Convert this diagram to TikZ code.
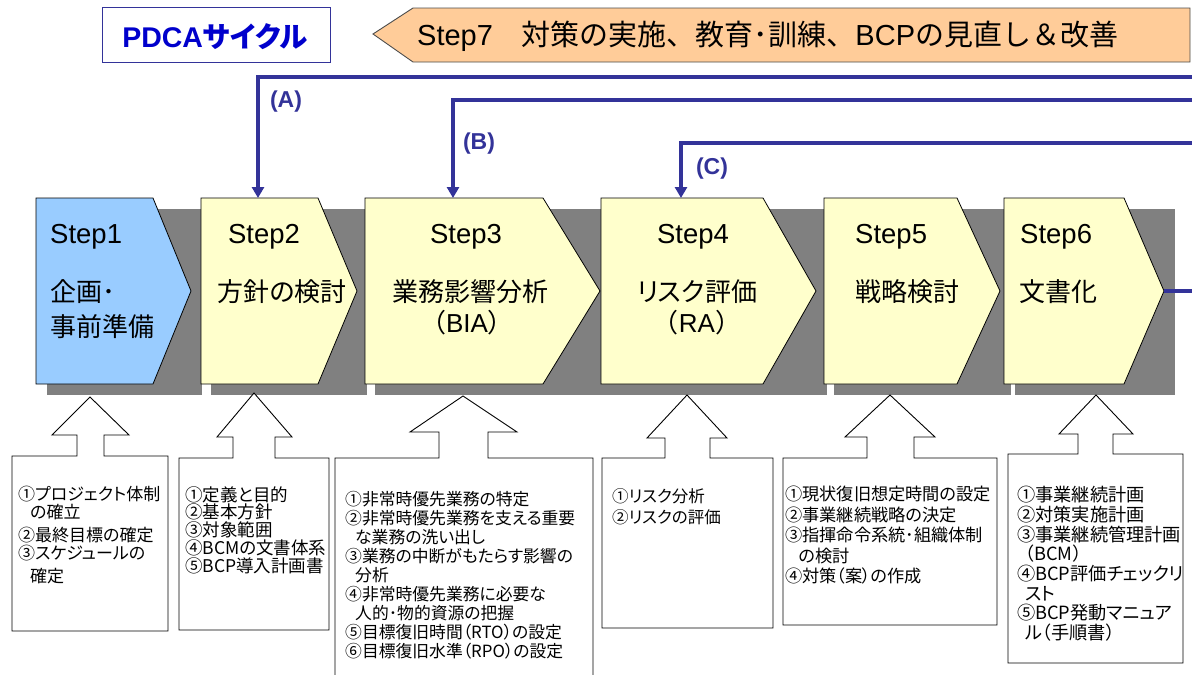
\documentclass[tikz,border=0pt]{standalone}
\usepackage{fontspec}
\setmainfont{Liberation Sans}
\newfontfamily\jp{Noto Sans CJK JP}
\newfontfamily\jpp[RawFeature=+palt]{Noto Sans CJK JP}
\usetikzlibrary{arrows.meta}
\definecolor{navy}{RGB}{51,51,153}
\definecolor{pdcablue}{RGB}{0,0,204}
\definecolor{stepyellow}{RGB}{255,255,204}
\definecolor{stepblue}{RGB}{153,204,255}
\definecolor{bannerorange}{RGB}{255,204,153}
\definecolor{shadowgray}{RGB}{128,128,128}
\tikzset{
  shadowbox/.style={fill=shadowgray, draw=none},
  stepshape/.style={draw=black, line width=0.8pt, fill=stepyellow, line join=miter},
  callout/.style={draw=black, line width=0.9pt, fill=white},
  steplabel/.style={anchor=base, inner sep=0pt, font=\fontsize{27.5}{30}\selectfont},
  steptitle/.style={anchor=base, inner sep=0pt, font=\jpp\fontsize{26}{30}\selectfont},
  itemtext/.style={anchor=north west, inner sep=0pt, align=left},
  feedback/.style={draw=navy, line width=3.5pt, -{Triangle[width=12pt,length=11pt]}},
  fbline/.style={draw=navy, line width=3.5pt},
  fblabel/.style={text=navy, font=\bfseries\fontsize{23}{26}\selectfont, inner sep=0pt},
}
\begin{document}
\begin{tikzpicture}[x=1pt,y=-1pt]
\useasboundingbox (0,0) rectangle (1192,675);

% PDCA title box
\draw[navy, line width=1pt, fill=white] (102,7) rectangle (330,62);
\node[anchor=base, inner sep=0pt, text=pdcablue, font=\bfseries\fontsize{28.5}{30}\selectfont] (pdca) at (215,47) {PDCA{\jpp サイクル}};

% Step7 banner
\draw[draw=black!70, line width=0.9pt, fill=bannerorange] (373,34) -- (413,8) -- (1190,8) -- (1190,62) -- (413,62) -- cycle;
\node[anchor=base west, inner sep=0pt, font=\fontsize{29}{30}\selectfont] (step7) at (417,45) {Step7{\jp　対策の実施、教育･訓練、}BCP{\jp の見直し＆改善}};

% shadows
\fill[shadowgray] (47,209) rectangle (202,395);
\fill[shadowgray] (211,209) rectangle (367,395);
\fill[shadowgray] (375,209) rectangle (611,395);
\fill[shadowgray] (611,209) rectangle (827,395);
\fill[shadowgray] (834,209) rectangle (1011,395);
\fill[shadowgray] (1015,209) rectangle (1175,395);

% step shapes
\draw[stepshape, fill=stepblue] (36,198) -- (153,198) -- (191,291) -- (153,384) -- (36,384) -- cycle;
\draw[stepshape] (201,198) -- (318,198) -- (357,291) -- (318,384) -- (201,384) -- cycle;
\draw[stepshape] (365,198) -- (543,198) -- (600,291) -- (543,384) -- (365,384) -- cycle;
\draw[stepshape] (601,198) -- (763,198) -- (816,291) -- (763,384) -- (601,384) -- cycle;
\draw[stepshape] (824,198) -- (957,198) -- (1000,291) -- (957,384) -- (824,384) -- cycle;
\draw[stepshape] (1004,198) -- (1124,198) -- (1164,291) -- (1124,384) -- (1004,384) -- cycle;

% step texts
\node[steplabel, anchor=base west] (s1a) at (50,243) {Step1};
\node[steptitle, anchor=base west] (s1b) at (50,301) {企画･};
\node[steptitle, anchor=base west] (s1c) at (50,336) {事前準備};
\node[steplabel] (s2a) at (264,243) {Step2};
\node[steptitle] (s2b) at (282,301) {方針の検討};
\node[steplabel] (s3a) at (466,243) {Step3};
\node[steptitle] (s3b) at (470,301) {業務影響分析};
\node[steplabel, font=\fontsize{26}{30}\selectfont] (s3c) at (467,332) {{\jp （}BIA{\jp ）}};
\node[steplabel] (s4a) at (693,243) {Step4};
\node[steptitle] (s4b) at (697,301) {リスク評価};
\node[steplabel, font=\fontsize{26}{30}\selectfont] (s4c) at (697,332) {{\jp （}RA{\jp ）}};
\node[steplabel, anchor=base west] (s5a) at (855,243) {Step5};
\node[steptitle, anchor=base west] (s5b) at (855,301) {戦略検討};
\node[steplabel, anchor=base west] (s6a) at (1020,243) {Step6};
\node[steptitle, anchor=base west] (s6b) at (1019,301) {文書化};

% connector end points
\coordinate (eA) at (1196,77);
\coordinate (eB) at (1196,100);
\coordinate (eC) at (1196,143);
\coordinate (eD) at (1196,291);
\coordinate (in2) at (258,198);
\coordinate (in3) at (453,198);
\coordinate (in4) at (681,198);
\coordinate (out6) at (1164,291);

\draw[feedback] (eA) -| (in2);
\draw[feedback] (eB) -| (in3);
\draw[feedback] (eC) -| (in4);
\draw[fbline] (out6) -- (eD);

\node[fblabel] (la) at (286,102) {(A)};
\node[fblabel] (lb) at (479,144) {(B)};
\node[fblabel] (lc) at (712,169) {(C)};

% callouts
\draw[callout] (12,631) -- (12,456) -- (77,456) -- (77,435) -- (52,435) -- (90,397) -- (129,435) -- (104,435) -- (104,456) -- (168,456) -- (168,631) -- cycle;
\draw[callout] (179,630) -- (179,458) -- (233,458) -- (233,437) -- (217,437) -- (254,393) -- (292,437) -- (275,437) -- (275,458) -- (329,458) -- (329,630) -- cycle;
\draw[callout] (335,690) -- (335,458) -- (439,458) -- (439,432) -- (410,432) -- (463,396) -- (517,432) -- (488,432) -- (488,458) -- (593,458) -- (593,690) -- cycle;
\draw[callout] (602,628) -- (602,458) -- (665,458) -- (665,438) -- (647,438) -- (687,395) -- (727,438) -- (710,438) -- (710,458) -- (773,458) -- (773,628) -- cycle;
\draw[callout] (783,625) -- (783,458) -- (867,458) -- (867,437) -- (845,437) -- (890,395) -- (935,437) -- (914,437) -- (914,458) -- (997,458) -- (997,625) -- cycle;
\draw[callout] (1008,663) -- (1008,454) -- (1078,454) -- (1078,434) -- (1059,434) -- (1096,395) -- (1133,434) -- (1113,434) -- (1113,454) -- (1183,454) -- (1183,663) -- cycle;

% callout texts
\node[itemtext, font=\jpp\fontsize{17}{18}\selectfont] (t1) at (18,486)
 {①プロジェクト体制\\\hspace*{12pt}の確立\\[5pt]②最終目標の確定\\③スケジュールの\\[5pt]\hspace*{12pt}確定};
\node[itemtext, font=\jpp\fontsize{17.5}{17.8}\selectfont] (t2) at (185,486)
 {①定義と目的\\②基本方針\\③対象範囲\\④BCMの文書体系\\⑤BCP導入計画書};
\node[itemtext, font=\jpp\fontsize{16.8}{19}\selectfont] (t3) at (345,491)
 {①非常時優先業務の特定\\②非常時優先業務を支える重要\\\hspace*{10pt}な業務の洗い出し\\③業務の中断がもたらす影響の\\\hspace*{10pt}分析\\④非常時優先業務に必要な\\\hspace*{10pt}人的･物的資源の把握\\⑤目標復旧時間（RTO）の設定\\⑥目標復旧水準（RPO）の設定};
\node[itemtext, font=\jpp\fontsize{16.5}{21}\selectfont] (t4) at (612,488)
 {①リスク分析\\②リスクの評価};
\node[itemtext, font=\jpp\fontsize{17.2}{20.5}\selectfont] (t5) at (785,486)
 {①現状復旧想定時間の設定\\②事業継続戦略の決定\\③指揮命令系統･組織体制\\\hspace*{14pt}の検討\\④対策（案）の作成};
\node[itemtext, font=\jpp\fontsize{18.2}{19.7}\selectfont] (t6) at (1017,486)
 {①事業継続計画\\②対策実施計画\\③事業継続管理計画\\\hspace*{8pt}（BCM）\\④BCP評価チェックリ\\\hspace*{8pt}スト\\⑤BCP発動マニュア\\\hspace*{8pt}ル（手順書）};
\end{tikzpicture}
\end{document}
